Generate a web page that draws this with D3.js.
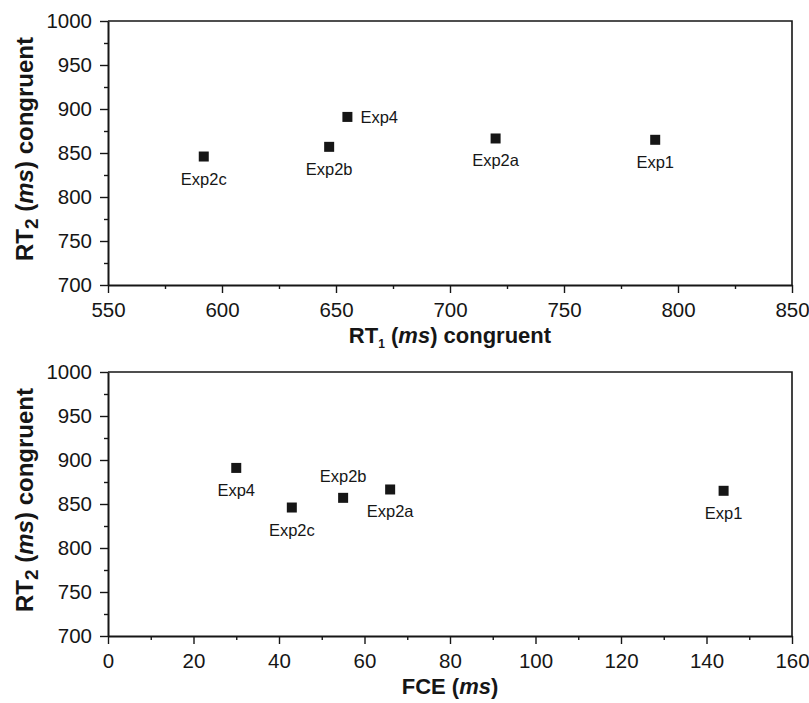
<!DOCTYPE html>
<html>
<head>
<meta charset="utf-8">
<script src="https://cdn.jsdelivr.net/npm/d3@7"></script>
<style>
  html, body { margin: 0; padding: 0; background: #fff; }
  svg { display: block; font-family: "Liberation Sans", Arial, Helvetica, sans-serif; }
</style>
</head>
<body>
<svg id="chart" width="809" height="703"></svg>
<script>
// ---- data ----
const experiments = ["Exp1", "Exp2a", "Exp2b", "Exp2c", "Exp4"];
const rt1Congruent = [790, 720, 647, 592, 655];
const rt2Congruent = [865, 866.5, 857, 846, 891];
const fce = [144, 66, 55, 43, 30];
const topLabelSide = ["below", "below", "below", "below", "right"];
const bottomLabelSide = ["below", "below", "above", "below", "below"];

const topXTicks = [550, 600, 650, 700, 750, 800, 850];
const topXMinor = [575, 625, 675, 725, 775, 825];
const bottomXTicks = [0, 20, 40, 60, 80, 100, 120, 140, 160];
const bottomXMinor = [10, 30, 50, 70, 90, 110, 130, 150];
const yTicks = [700, 750, 800, 850, 900, 950, 1000];
const yMinor = [725, 775, 825, 875, 925, 975];

const svg = d3.select("#chart");
const ink = "#161616";

function panel(opts) {
  const { left, right, top, bottom, xDomain, xTicks, xMinor, xVals, sides, xTitle } = opts;
  const x = d3.scaleLinear().domain(xDomain).range([left, right]);
  const y = d3.scaleLinear().domain([700, 1000]).range([bottom, top]);
  const g = svg.append("g");

  // frame (top and right)
  g.append("path")
    .attr("d", `M${left},${top}H${right}V${bottom}`)
    .attr("fill", "none").attr("stroke", ink).attr("stroke-width", 1.6);

  // minor ticks
  const xm = g.append("g").attr("transform", `translate(0,${bottom})`)
    .call(d3.axisBottom(x).tickValues(xMinor).tickSize(4).tickFormat(""));
  xm.select(".domain").remove();
  const ym = g.append("g").attr("transform", `translate(${left},0)`)
    .call(d3.axisLeft(y).tickValues(yMinor).tickSize(4).tickFormat(""));
  ym.select(".domain").remove();

  // major axes
  const xa = g.append("g").attr("transform", `translate(0,${bottom})`)
    .call(d3.axisBottom(x).tickValues(xTicks).tickSize(8).tickSizeOuter(0).tickPadding(9).tickFormat(d3.format("d")));
  const ya = g.append("g").attr("transform", `translate(${left},0)`)
    .call(d3.axisLeft(y).tickValues(yTicks).tickSize(8).tickSizeOuter(0).tickPadding(8).tickFormat(d3.format("d")));

  [xa, ya, xm, ym].forEach(a => {
    a.selectAll("line").attr("stroke", ink).attr("stroke-width", 1.4);
    a.select(".domain").attr("stroke", ink).attr("stroke-width", 2);
    a.selectAll("text").attr("fill", ink).style("font-size", "20.5px")
      .style("font-family", '"Liberation Sans", Arial, sans-serif');
  });

  // points
  const data = experiments.map((name, i) => ({ name, xv: xVals[i], yv: rt2Congruent[i], side: sides[i] }));
  const s = 10;
  g.selectAll("rect.pt").data(data).join("rect").attr("class", "pt")
    .attr("x", d => x(d.xv) - s / 2).attr("y", d => y(d.yv) - s / 2)
    .attr("width", s).attr("height", s).attr("fill", ink);

  g.selectAll("text.lbl").data(data).join("text").attr("class", "lbl")
    .attr("x", d => d.side === "right" ? x(d.xv) + 13 : x(d.xv))
    .attr("y", d => d.side === "below" ? y(d.yv) + 28 : d.side === "above" ? y(d.yv) - 16 : y(d.yv) + 6)
    .attr("text-anchor", d => d.side === "right" ? "start" : "middle")
    .attr("fill", ink).style("font-size", "16.5px")
    .text(d => d.name);

  // y title
  const cy = (top + bottom) / 2 - 4;
  const yt = g.append("text")
    .attr("transform", `translate(33,${cy}) rotate(-90)`)
    .attr("text-anchor", "middle")
    .attr("fill", ink).style("font-size", "24px").style("font-weight", "bold");
  yt.append("tspan").text("RT");
  yt.append("tspan").attr("dy", 5).style("font-size", "19px").text("2");
  yt.append("tspan").attr("dy", -5).text(" (");
  yt.append("tspan").style("font-style", "italic").text("ms");
  yt.append("tspan").text(") congruent");

  // x title
  const xt = g.append("text")
    .attr("x", (left + right) / 2).attr("y", bottom + 58)
    .attr("text-anchor", "middle")
    .attr("fill", ink).style("font-size", "22px").style("font-weight", "bold");
  xTitle(xt);
}

panel({
  left: 108, right: 792, top: 21, bottom: 285,
  xDomain: [550, 850], xTicks: topXTicks, xMinor: topXMinor,
  xVals: rt1Congruent, sides: topLabelSide,
  xTitle: t => {
    t.append("tspan").text("RT");
    t.append("tspan").attr("dy", 5).style("font-size", "12px").text("1");
    t.append("tspan").attr("dy", -5).text(" (");
    t.append("tspan").style("font-style", "italic").text("ms");
    t.append("tspan").text(") congruent");
  }
});

panel({
  left: 108, right: 792, top: 372, bottom: 636,
  xDomain: [0, 160], xTicks: bottomXTicks, xMinor: bottomXMinor,
  xVals: fce, sides: bottomLabelSide,
  xTitle: t => {
    t.append("tspan").text("FCE (");
    t.append("tspan").style("font-style", "italic").text("ms");
    t.append("tspan").text(")");
  }
});
</script>
</body>
</html>
